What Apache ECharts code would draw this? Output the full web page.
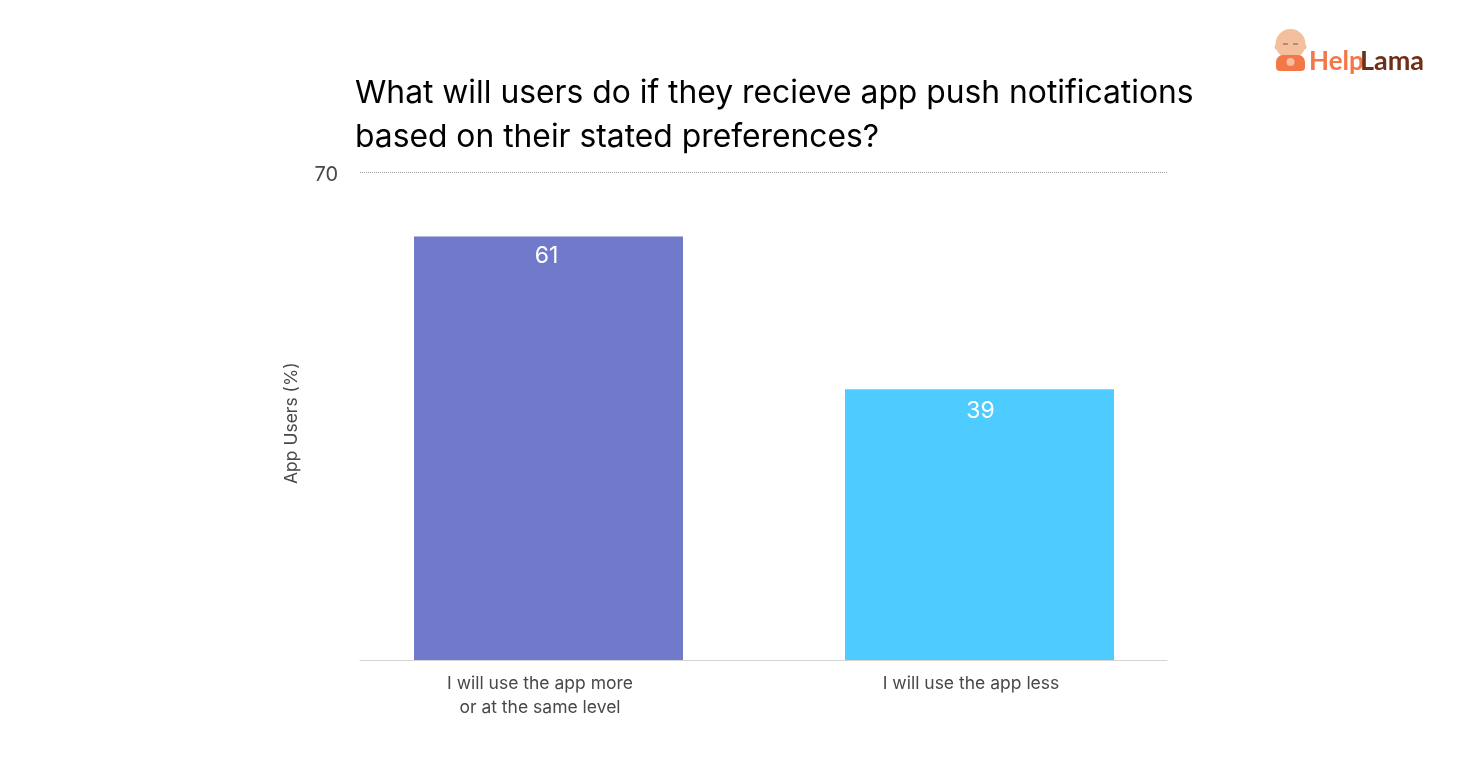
<!DOCTYPE html>
<html><head><meta charset="utf-8">
<style>html,body{margin:0;padding:0;background:#fff}#c{width:1481px;height:775px}</style>
<script src="https://cdn.jsdelivr.net/npm/echarts@6/dist/echarts.min.js"></script>
</head><body><div id="c"></div>
<script>
const titleLines = ['What will users do if they recieve app push notifications', 'based on their stated preferences?'];
const categories = ['I will use the app more\nor at the same level', 'I will use the app less'];
const values = [61, 39];
const barColors = ['#7079CA', '#4FCCFF'];
const yMin = 0, yMax = 70;
const yAxisName = 'App Users (%)';
const font = 'Inter, "Noto Sans", sans-serif';
const labelOffsets = [[-2, 0], [1, 2]];

const chart = echarts.init(document.getElementById('c'), null, {renderer: 'canvas'});
chart.setOption({
  animation: false,
  backgroundColor: '#fff',
  title: {
    text: titleLines.join('\n'), left: 355, top: 71, padding: 0,
    textStyle: {fontFamily: font, fontSize: 31.8, fontWeight: 400, color: '#000', lineHeight: 44}
  },
  grid: [
    {left: 360, right: 314, top: 172.5, bottom: 115},
    {left: 333, width: 862, top: 174, bottom: 115}
  ],
  xAxis: [
    {gridIndex: 0, type: 'value', min: 0, max: 1, show: true, splitLine: {show: false},
      axisTick: {show: false}, axisLabel: {show: false},
      axisLine: {show: true, onZero: false, lineStyle: {color: '#d4d4d4', width: 1}}},
    {gridIndex: 1, type: 'category', data: categories,
      axisLine: {show: false}, axisTick: {show: false},
      axisLabel: {margin: 12, padding: [0, 17, 0, 0], fontFamily: font, fontSize: 17.5, color: '#484848', lineHeight: 24, interval: 0}}
  ],
  yAxis: [
    {gridIndex: 0, type: 'value', min: yMin, max: yMax, interval: yMax,
      name: yAxisName, nameLocation: 'middle', nameGap: 59,
      nameTextStyle: {fontFamily: font, fontSize: 17.5, color: '#484848', padding: [0, 14, 0, 0]},
      axisLine: {show: false}, axisTick: {show: false},
      axisLabel: {margin: 22, fontFamily: font, fontSize: 20, color: '#484848', verticalAlign: 'top', lineHeight: 4,
        formatter: v => v === yMin ? '' : String(v)},
      splitLine: {show: true, lineStyle: {color: '#a0a0a0', type: 'dotted', width: 1}}},
    {gridIndex: 1, type: 'value', min: yMin, max: yMax, show: false, splitLine: {show: false}}
  ],
  series: [{
    type: 'bar', xAxisIndex: 1, yAxisIndex: 1, barWidth: 269,
    data: values.map((v, i) => ({
      value: v,
      itemStyle: {color: barColors[i]},
      label: {offset: labelOffsets[i]}
    })),
    label: {show: true, position: 'insideTop', distance: 8, fontFamily: font, fontSize: 23, color: '#fff'}
  }],
  graphic: [
    {type: 'circle', shape: {cx: 1277, cy: 47, r: 2.5}, style: {fill: '#F3BF9C'}},
    {type: 'circle', shape: {cx: 1304, cy: 47, r: 2.5}, style: {fill: '#F3BF9C'}},
    {type: 'circle', shape: {cx: 1290.5, cy: 44, r: 15}, style: {fill: '#F3BF9C'}},
    {type: 'rect', shape: {x: 1276, y: 55, width: 29, height: 16, r: [7, 7, 4, 4]}, style: {fill: '#F4774A'}},
    {type: 'circle', shape: {cx: 1290.5, cy: 62, r: 4}, style: {fill: '#F3BF9C'}},
    {type: 'line', shape: {x1: 1283, y1: 44, x2: 1288, y2: 44}, style: {stroke: '#7a5a48', lineWidth: 1}},
    {type: 'line', shape: {x1: 1293, y1: 44, x2: 1298, y2: 44}, style: {stroke: '#7a5a48', lineWidth: 1}},
    {type: 'text', x: 1309, y: 49, style: {text: 'Help', fill: '#F4774A', font: '700 26px Lato, sans-serif'}},
    {type: 'text', x: 1360, y: 48, style: {text: 'Lama', fill: '#6E2F17', font: '700 27px Lato, sans-serif'}}
  ]
});
</script></body></html>
